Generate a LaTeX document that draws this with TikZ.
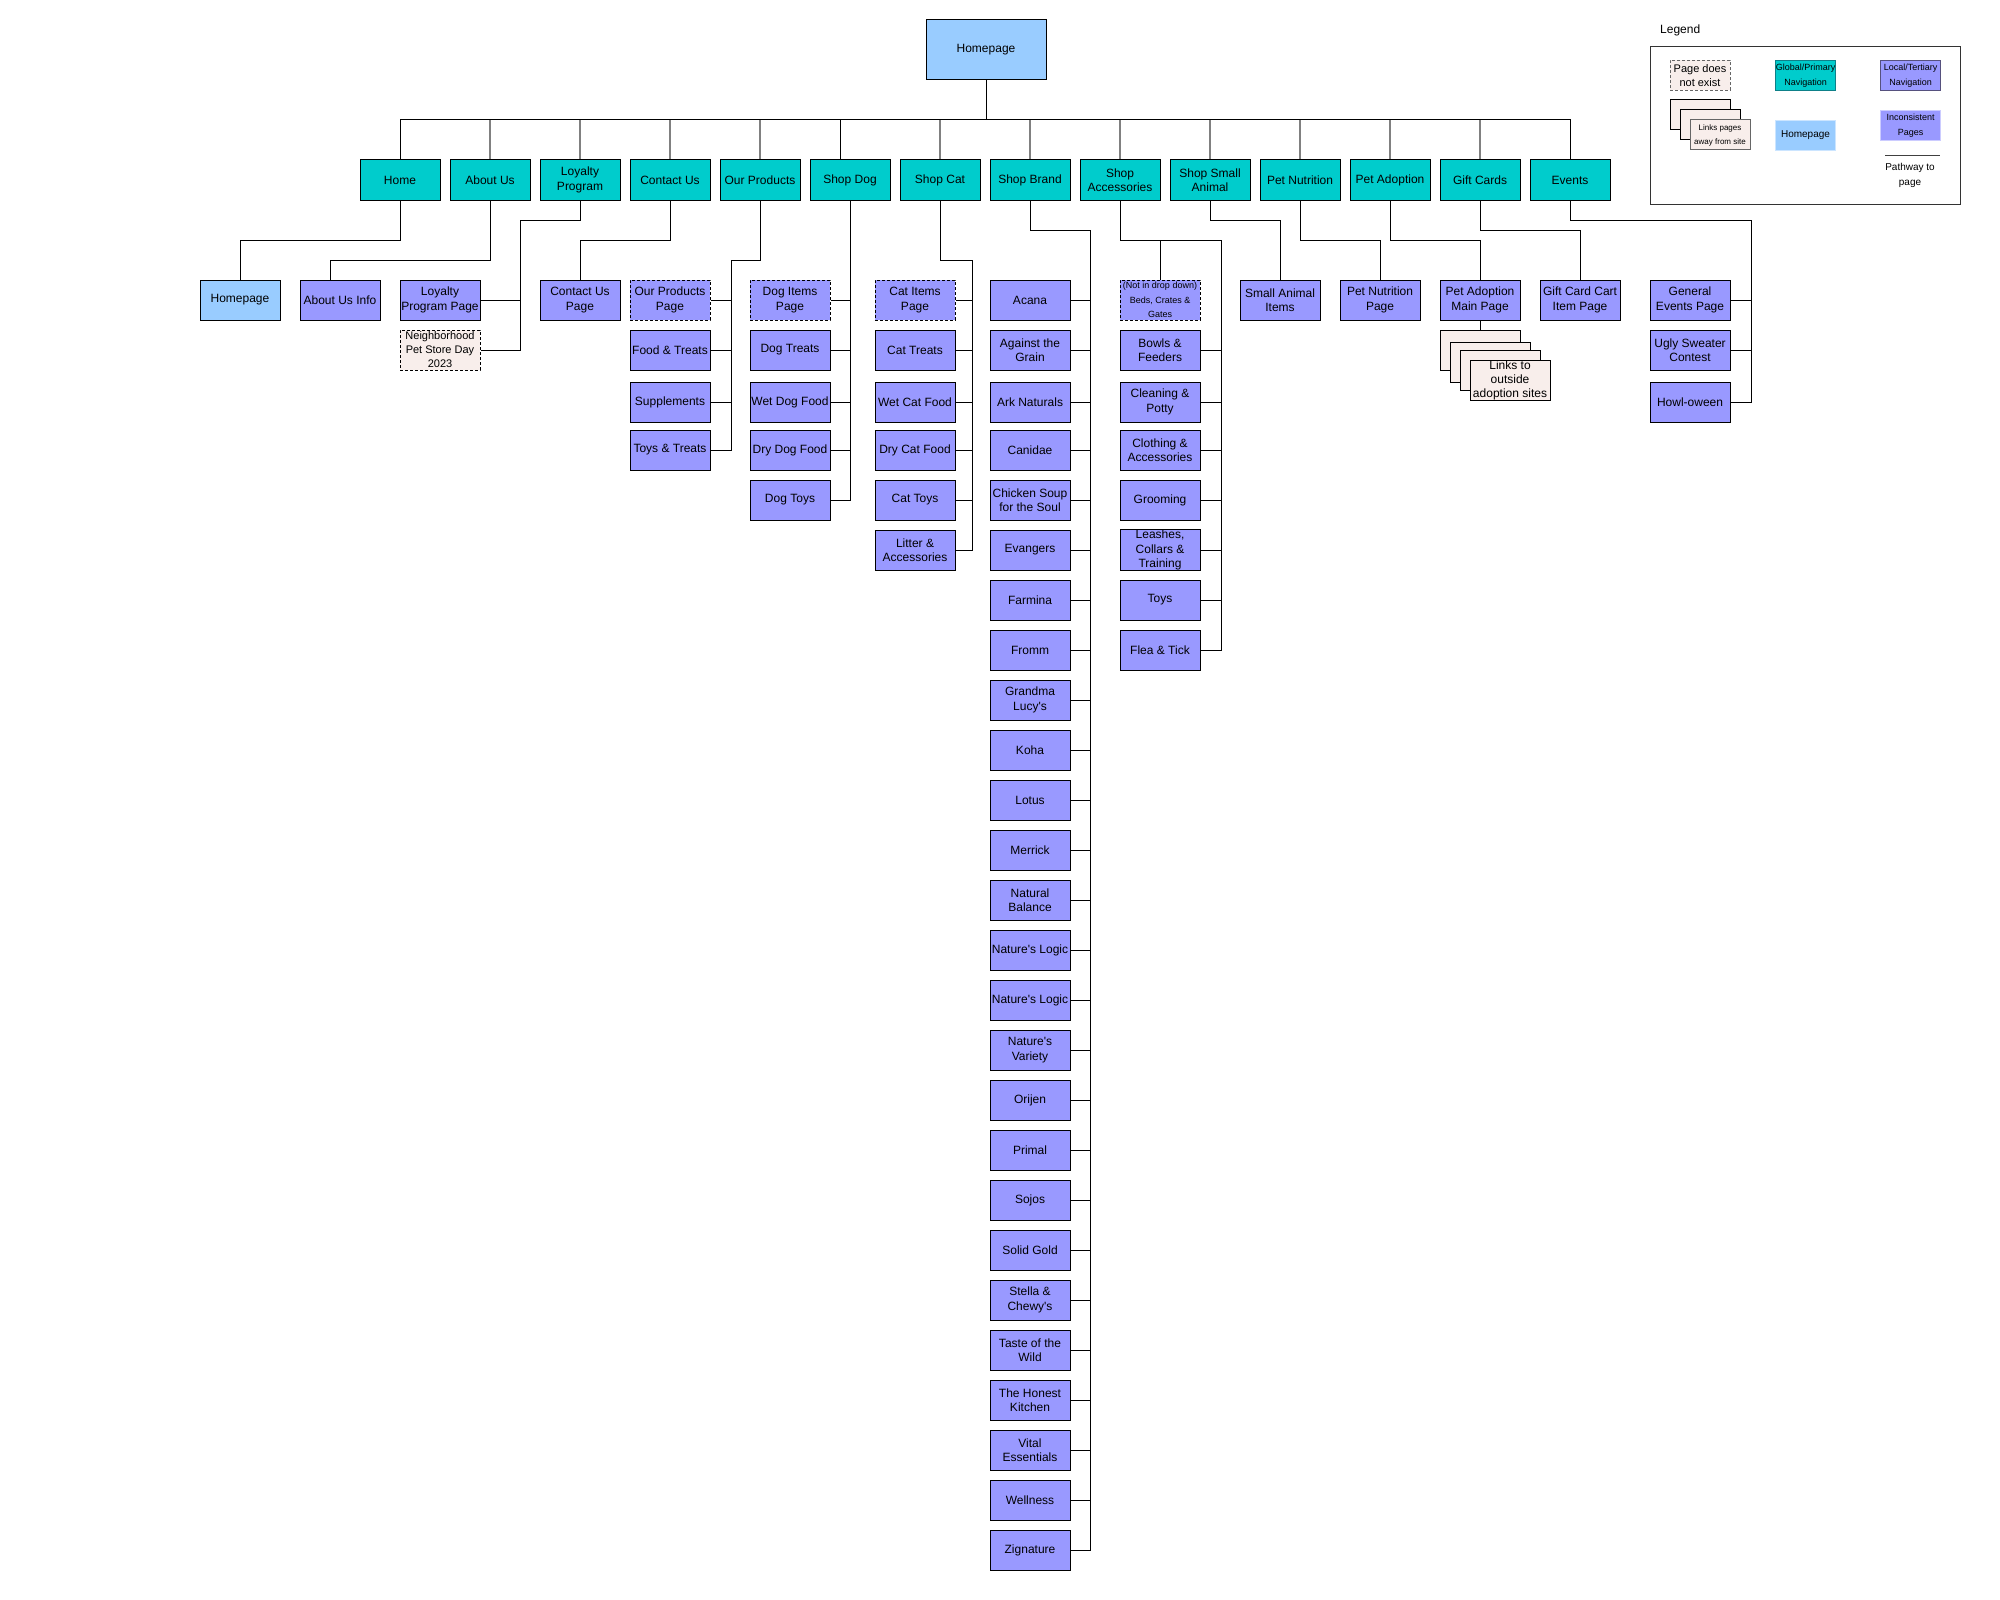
\documentclass[tikz,border=0pt]{standalone}
\usepackage{fontspec}
\setmainfont{Liberation Sans}
\usepackage{tikz}
\usetikzlibrary{calc}
\definecolor{navteal}{HTML}{00CCCC}
\definecolor{pagepurple}{HTML}{9999FF}
\definecolor{homeblue}{HTML}{99CCFF}
\definecolor{nopink}{HTML}{F8EEEB}
\definecolor{tealedge}{HTML}{0E8088}
\definecolor{purpleedge}{HTML}{56517E}
\definecolor{paleblue}{HTML}{CCE5FF}
\definecolor{palepurple}{HTML}{CCCCFF}
\definecolor{stemgray}{HTML}{808080}
\newcommand{\fs}[2]{\fontsize{#1}{#2}\selectfont}
\newcommand{\ap}{\textquotesingle}
\tikzset{
  mbox/.style={rectangle, draw=black, line width=1pt, minimum width=80pt,
               minimum height=40pt, inner sep=0pt, align=center, font=\fs{12}{14.5}},
  mnav/.style={mbox, fill=navteal},
  mpage/.style={mbox, fill=pagepurple},
  mhome/.style={mbox, fill=homeblue},
  mghost/.style={mpage, dash pattern=on 3pt off 2pt},
  mnone/.style={mbox, fill=nopink, dash pattern=on 3pt off 2pt},
  mlink/.style={mbox, fill=nopink},
  mkey/.style={mbox, minimum width=60pt, minimum height=30pt},
  mwire/.style={draw=black, line width=1pt},
  mstem/.style={draw=stemgray, line width=1.3pt},
}

\begin{document}
\begin{tikzpicture}[x=1pt, y=-1pt]

  \path[use as bounding box, fill=white] (0,0) rectangle (2000,1600);

  % top
  \node[mhome, minimum width=120pt, minimum height=60pt] (hp) at (986,50) {Homepage};

  % global navigation
  \node[mnav] (home)    at (400,180)  {Home};
  \node[mnav] (about)   at (490,180)  {About Us};
  \node[mnav] (loyal)   at (580,180)  {Loyalty\\Program};
  \node[mnav] (contact) at (670,180)  {Contact Us};
  \node[mnav] (prod)    at (760,180)  {Our Products};
  \node[mnav] (dog)     at (850,180)  {Shop Dog};
  \node[mnav] (cat)     at (940,180)  {Shop Cat};
  \node[mnav] (brand)   at (1030,180) {Shop Brand};
  \node[mnav] (acc)     at (1120,180) {Shop\\Accessories};
  \node[mnav] (small)   at (1210,180) {Shop Small\\Animal};
  \node[mnav] (nutri)   at (1300,180) {Pet Nutrition};
  \node[mnav] (adopt)   at (1390,180) {Pet Adoption};
  \node[mnav] (gift)    at (1480,180) {Gift Cards};
  \node[mnav] (events)  at (1570,180) {Events};

  % pages
  \node[mhome] (homepg)    at (240,300) {Homepage};
  \node[mpage] (aboutinfo) at (340,300) {About Us Info};
  \node[mpage] (loyalpg)   at (440,300) {Loyalty\\Program Page};
  \node[mnone, font=\fs{11}{14}] (neighbor) at (440,350) {Neighborhood\\Pet Store Day\\2023};
  \node[mpage] (contactpg) at (580,300) {Contact Us\\Page};

  \node[mghost] (prodpg)      at (670,300) {Our Products\\Page};
  \node[mpage]  (foodtreats)  at (670,350) {Food \& Treats};
  \node[mpage]  (supplements) at (670,402) {Supplements};
  \node[mpage]  (toystreats)  at (670,450) {Toys \& Treats};

  \node[mghost] (dogitems)  at (790,300) {Dog Items\\Page};
  \node[mpage]  (dogtreats) at (790,350) {Dog Treats};
  \node[mpage]  (wetdog)    at (790,402) {Wet Dog Food};
  \node[mpage]  (drydog)    at (790,450) {Dry Dog Food};
  \node[mpage]  (dogtoys)   at (790,500) {Dog Toys};

  \node[mghost] (catitems)  at (915,300) {Cat Items\\Page};
  \node[mpage]  (cattreats) at (915,350) {Cat Treats};
  \node[mpage]  (wetcat)    at (915,402) {Wet Cat Food};
  \node[mpage]  (drycat)    at (915,450) {Dry Cat Food};
  \node[mpage]  (cattoys)   at (915,500) {Cat Toys};
  \node[mpage]  (litter)    at (915,550) {Litter \&\\Accessories};

  % brands
  \node[mpage] (acana)     at (1030,300)  {Acana};
  \node[mpage] (grain)     at (1030,350)  {Against the\\Grain};
  \node[mpage] (ark)       at (1030,402)  {Ark Naturals};
  \node[mpage] (canidae)   at (1030,450)  {Canidae};
  \node[mpage] (soup)      at (1030,500)  {Chicken Soup\\for the Soul};
  \node[mpage] (evangers)  at (1030,550)  {Evangers};
  \node[mpage] (farmina)   at (1030,600)  {Farmina};
  \node[mpage] (fromm)     at (1030,650)  {Fromm};
  \node[mpage] (lucy)      at (1030,700)  {Grandma\\Lucy\ap s};
  \node[mpage] (koha)      at (1030,750)  {Koha};
  \node[mpage] (lotus)     at (1030,800)  {Lotus};
  \node[mpage] (merrick)   at (1030,850)  {Merrick};
  \node[mpage] (balance)   at (1030,900)  {Natural\\Balance};
  \node[mpage] (logica)    at (1030,950)  {Nature\ap s Logic};
  \node[mpage] (logicb)    at (1030,1000) {Nature\ap s Logic};
  \node[mpage] (variety)   at (1030,1050) {Nature\ap s\\Variety};
  \node[mpage] (orijen)    at (1030,1100) {Orijen};
  \node[mpage] (primal)    at (1030,1150) {Primal};
  \node[mpage] (sojos)     at (1030,1200) {Sojos};
  \node[mpage] (gold)      at (1030,1250) {Solid Gold};
  \node[mpage] (stella)    at (1030,1300) {Stella \&\\Chewy\ap s};
  \node[mpage] (taste)     at (1030,1350) {Taste of the\\Wild};
  \node[mpage] (honest)    at (1030,1400) {The Honest\\Kitchen};
  \node[mpage] (vital)     at (1030,1450) {Vital\\Essentials};
  \node[mpage] (wellness)  at (1030,1500) {Wellness};
  \node[mpage] (zignature) at (1030,1550) {Zignature};

  % accessories
  \node[mghost, font=\fs{9}{14.3}] (notdrop) at (1160,300) {(Not in drop down)\\Beds, Crates \&\\Gates};
  \node[mpage] (bowls)    at (1160,350) {Bowls \&\\Feeders};
  \node[mpage] (cleaning) at (1160,402) {Cleaning \&\\Potty};
  \node[mpage] (clothing) at (1160,450) {Clothing \&\\Accessories};
  \node[mpage] (grooming) at (1160,500) {Grooming};
  \node[mpage] (leashes)  at (1160,550) {Leashes,\\Collars \&\\Training};
  \node[mpage] (toys)     at (1160,600) {Toys};
  \node[mpage] (flea)     at (1160,650) {Flea \& Tick};

  \node[mpage] (smallitems)  at (1280,300) {Small Animal\\Items};
  \node[mpage] (nutripg)     at (1380,300) {Pet Nutrition\\Page};
  \node[mpage] (adoptpg)     at (1480,300) {Pet Adoption\\Main Page};
  \node[mlink] (link1) at (1480,350) {};
  \node[mlink] (link2) at (1490,362) {};
  \node[mlink] (link3) at (1500,370) {};
  \node[mlink, font=\fs{12}{14}] (link4) at (1510,380) {Links to\\outside\\adoption sites};
  \node[mpage] (giftpg)      at (1580,300) {Gift Card Cart\\Item Page};

  \node[mpage] (genevents) at (1690,300) {General\\Events Page};
  \node[mpage] (ugly)      at (1690,350) {Ugly Sweater\\Contest};
  \node[mpage] (howl)      at (1690,402) {Howl-oween};

  % homepage to global navigation
  \coordinate (bus) at (986,120);
  \foreach \n in {about,loyal,contact,prod,cat,brand,acc,small,nutri,adopt,gift}
    \draw[mstem] (bus -| \n.north) -- (\n.north);
  \draw[mwire] (hp.south) -- (bus) -| (home.north);
  \draw[mwire] (hp.south) -- (bus) -| (events.north);
  \draw[mwire] (bus) -| ([xshift=-10pt]dog.north);

  % global navigation to pages
  \draw[mwire] (home.south) -- ++(0,40) -| (homepg.north);
  \draw[mwire] (about.south) -- ++(0,60) -| ([xshift=-10pt]aboutinfo.north);

  \coordinate (loyalbus) at (520,220);
  \draw[mwire] (loyal.south) |- (loyalbus) |- (neighbor.east);
  \draw[mwire] (loyalpg.east) -- (loyalpg.east -| loyalbus);

  \draw[mwire] (contact.south) -- ++(0,40) -| (contactpg.north);

  \coordinate (prodbus) at (731,260);
  \draw[mwire] (prod.south) |- (prodbus) |- (toystreats.east);
  \foreach \n in {prodpg,foodtreats,supplements}
    \draw[mwire] (\n.east) -- (\n.east -| prodbus);

  \draw[mwire] (dog.south) |- (dogtoys.east);
  \foreach \n in {dogitems,dogtreats,wetdog,drydog}
    \draw[mwire] (\n.east) -- (\n.east -| dog.south);

  \coordinate (catbus) at (972,260);
  \draw[mwire] (cat.south) |- (catbus) |- (litter.east);
  \foreach \n in {catitems,cattreats,wetcat,drycat,cattoys}
    \draw[mwire] (\n.east) -- (\n.east -| catbus);

  \coordinate (brandbus) at (1090,230);
  \draw[mwire] (brand.south) |- (brandbus) |- (zignature.east);
  \foreach \n in {acana,grain,ark,canidae,soup,evangers,farmina,fromm,lucy,koha,lotus,
                  merrick,balance,logica,logicb,variety,orijen,primal,sojos,gold,stella,
                  taste,honest,vital,wellness}
    \draw[mwire] (\n.east) -- (\n.east -| brandbus);

  \coordinate (accbus) at (1221,240);
  \draw[mwire] (acc.south) |- (accbus) |- (flea.east);
  \draw[mwire] (notdrop.north) -- (notdrop.north |- accbus);
  \foreach \n in {bowls,cleaning,clothing,grooming,leashes,toys}
    \draw[mwire] (\n.east) -- (\n.east -| accbus);

  \draw[mwire] (small.south) -- ++(0,20) -| (smallitems.north);
  \draw[mwire] (nutri.south) -- ++(0,40) -| (nutripg.north);
  \draw[mwire] (adopt.south) -- ++(0,40) -| (adoptpg.north);
  \draw[mwire] (adoptpg.south) -- (link1.north);
  \draw[mwire] (gift.south) -- ++(0,30) -| (giftpg.north);

  \coordinate (eventbus) at (1751,220);
  \draw[mwire] (events.south) |- (eventbus) |- (howl.east);
  \foreach \n in {genevents,ugly}
    \draw[mwire] (\n.east) -- (\n.east -| eventbus);

  % legend
  \node[anchor=west, inner sep=0pt, font=\fs{12}{14}] (lgtitle) at (1660,30) {Legend};
  \draw[black!80, line width=1pt] (1650,47) rectangle (1960,204);
  \node[mkey, fill=nopink, draw=black!60, dash pattern=on 3pt off 2pt, font=\fs{11}{14}]
        (lgnone) at (1700,75.5) {Page does\\not exist};
  \node[mkey, fill=navteal, draw=tealedge, font=\fs{9}{15}]
        (lgnav) at (1805.5,75.5) {Global/Primary\\Navigation};
  \node[mkey, fill=pagepurple, draw=purpleedge, font=\fs{9}{15}]
        (lglocal) at (1910.5,75.5) {Local/Tertiary\\Navigation};
  \node[mkey, fill=nopink] (lglink1) at (1700,115) {};
  \node[mkey, fill=nopink] (lglink2) at (1710,125) {};
  \node[mkey, fill=nopink, draw=black!60, font=\fs{8}{14}]
        (lglink3) at (1720,135) {Links pages\\away from site};
  \node[mkey, fill=homeblue, draw=paleblue, font=\fs{10}{14}]
        (lghome) at (1805.5,135.5) {Homepage};
  \node[mkey, fill=pagepurple, draw=palepurple, font=\fs{9}{15}]
        (lgincons) at (1910.5,125.5) {Inconsistent\\Pages};
  \coordinate (lgpathl) at (1885,156);
  \coordinate (lgpathr) at (1940,156);
  \draw[black!75, line width=1pt] (lgpathl) -- (lgpathr);
  \node[font=\fs{10}{15}, align=center] (lgpath) at (1910,175.5) {Pathway to\\page};

\end{tikzpicture}
\end{document}
